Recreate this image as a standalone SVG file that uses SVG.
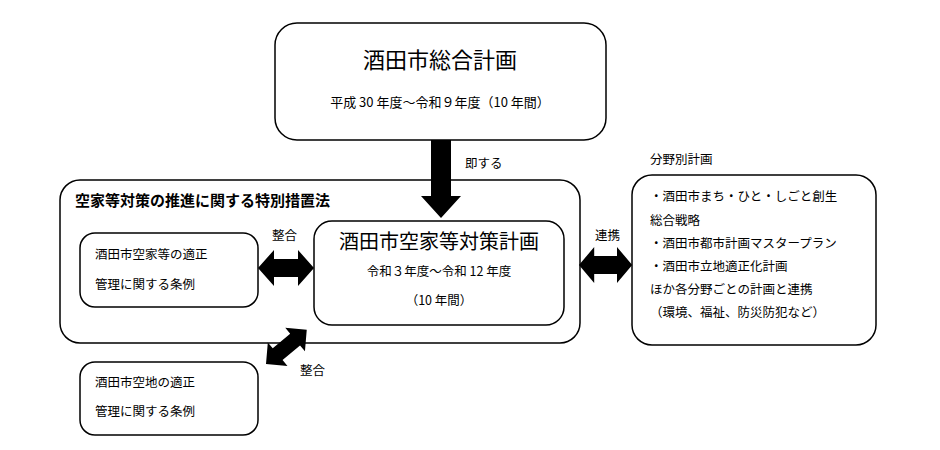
<svg xmlns="http://www.w3.org/2000/svg" width="940" height="450" viewBox="0 0 940 450">
<style>
text{font-family:"Noto Sans CJK JP","Noto Sans CJK SC",sans-serif;fill:#000}
.box{fill:#fff;stroke:#000;stroke-width:1.5}
.s{font-size:12.5px}
.m{font-size:13px}
</style>
<defs>
<path id="dbl" d="M0,0 L16,-18 L16,-9 L40,-9 L40,-18 L56,0 L40,18 L40,9 L16,9 L16,18 Z" fill="#000"/>
</defs>
<rect width="940" height="450" fill="#fff"/>
<g id="sogo"><rect class="box" x="275" y="23" width="331" height="117" rx="22"/>
<text x="440" y="68" font-size="22" text-anchor="middle">酒田市総合計画</text>
<text x="440" y="107" class="m" text-anchor="middle">平成 30 年度～令和９年度（10 年間）</text></g>
<g id="hou"><rect class="box" x="60" y="180" width="520" height="163" rx="20"/>
<text x="75" y="206" font-size="15" font-weight="bold">空家等対策の推進に関する特別措置法</text></g>
<g id="keikaku"><rect class="box" x="314" y="221" width="250" height="104" rx="18"/>
<text x="439" y="249" font-size="20" text-anchor="middle">酒田市空家等対策計画</text>
<text x="439" y="276" class="s" text-anchor="middle">令和３年度～令和 12 年度</text>
<text x="439" y="305" class="s" text-anchor="middle">（10 年間）</text></g>
<g id="jorei1"><rect class="box" x="80" y="233" width="178" height="74" rx="15"/>
<text x="95" y="259" class="s">酒田市空家等の適正</text>
<text x="95" y="289" class="s">管理に関する条例</text></g>
<g id="jorei2"><rect class="box" x="80" y="362" width="178" height="73" rx="15"/>
<text x="95" y="387" class="s">酒田市空地の適正</text>
<text x="95" y="416" class="s">管理に関する条例</text></g>
<g id="bunya"><rect class="box" x="632" y="175" width="244" height="170" rx="20"/>
<text x="650" y="201" class="s">・酒田市まち・ひと・しごと創生</text>
<text x="650" y="225" class="s">総合戦略</text>
<text x="650" y="248" class="s">・酒田市都市計画マスタープラン</text>
<text x="650" y="271" class="s">・酒田市立地適正化計画</text>
<text x="650" y="294" class="s">ほか各分野ごとの計画と連携</text>
<text x="650" y="317" class="s">（環境、福祉、防災防犯など）</text></g>
<text x="650" y="164" class="s">分野別計画</text>
<g id="connectors">
<path d="M431,140 L451,140 L451,196 L461,196 L441,218 L421,196 L431,196 Z" fill="#000"/>
<text x="465" y="168" class="s">即する</text>
<use href="#dbl" transform="translate(258,268)"/>
<text x="272" y="240" class="s">整合</text>
<use href="#dbl" transform="translate(579,265) scale(0.95,1)"/>
<text x="595" y="240" class="s">連携</text>
<use href="#dbl" transform="translate(266,364) rotate(-40) scale(0.95,0.85)"/>
<text x="300" y="375" class="s">整合</text>
</g>
</svg>
